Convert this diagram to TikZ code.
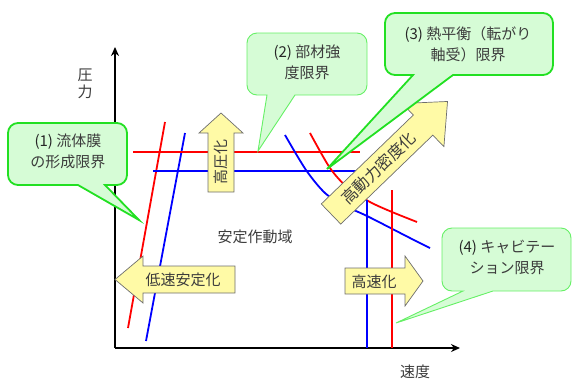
\documentclass[tikz,border=0pt]{standalone}
\usepackage{fontspec}
\setmainfont{Noto Sans CJK JP}
\usetikzlibrary{arrows.meta}
\definecolor{cfill}{HTML}{D6FCD6}
\definecolor{cline}{HTML}{22E022}
\definecolor{clinel}{HTML}{66F066}
\definecolor{afill}{HTML}{FFFAA6}
\definecolor{aline}{HTML}{6E6E6E}
\definecolor{txt}{HTML}{3C3C3C}
\definecolor{lred}{HTML}{FF0000}
\definecolor{lblue}{HTML}{0000FF}
\tikzset{
  redl/.style={draw=lred,line width=1.8pt},
  bluel/.style={draw=lblue,line width=1.8pt},
  axisl/.style={draw=black,line width=1.6pt,-{Stealth[length=9pt,width=8pt]}},
  blockarrow/.style={fill=afill,draw=aline,line width=0.7pt,line join=miter},
  callthick/.style={fill=cfill,draw=cline,line width=1.8pt},
  callthin/.style={fill=cfill,draw=clinel,line width=0.9pt},
  lbl/.style={inner sep=0pt,align=center,font=\fontsize{15}{21}\selectfont,text=txt},
}
\newcommand{\numtx}[1]{\textcolor{black!85}{#1}}
\begin{document}
\begin{tikzpicture}[x=1pt,y=-1pt]
\useasboundingbox (0,0) rectangle (573,381);

% axes
\coordinate (org) at (115,348);
\coordinate (ytip) at (115,47);
\coordinate (xtip) at (460,348);
\draw[axisl] (org) -- (ytip);
\draw[axisl] (org) -- (xtip);
\node[lbl] (ylab1) at (85,75) {圧};
\node[lbl] (ylab2) at (85,92) {力};
\node[lbl] (xlab) at (415,372) {速度};

% limit lines
\draw[redl] (165,122) -- (128,328);
\draw[bluel] (185,133) -- (146,341);
\draw[redl] (133,152) -- (360,152);
\draw[bluel] (153,171) -- (362,171);
\draw[bluel] plot[smooth] coordinates {(285,135) (306,170) (325,193) (345,206) (367,216) (410,238) (430,248)};
\draw[redl] plot[smooth] coordinates {(310,133) (330,168) (348,188) (370,202) (392,212) (417,222)};
\draw[bluel] (367,200) -- (367,348);
\draw[redl] (392,190) -- (392,348);

\node[lbl] (zone) at (255,237) {安定作動域};

% block arrows
\draw[blockarrow] (208,192) -- (234,192) -- (234,133) -- (243,133) -- (221,113) -- (199,133) -- (208,133) -- cycle;
\node[lbl,rotate=90] (upt) at (221,162) {高圧化};

\draw[blockarrow] (235,266) -- (143,266) -- (143,256) -- (115,279.5) -- (143,303) -- (143,293) -- (235,293) -- cycle;
\node[lbl] (leftt) at (183,280) {低速安定化};

\draw[blockarrow] (345,268) -- (405,268) -- (405,256) -- (423,281) -- (405,306) -- (405,294) -- (345,294) -- cycle;
\node[lbl] (rightt) at (374,282) {高速化};

\begin{scope}[shift={(331,214)},rotate=44]
\draw[blockarrow] (0,-14) -- (128,-14) -- (128,-30) -- (162,0) -- (128,30) -- (128,14) -- (0,14) -- cycle;
\node[lbl,transform shape,font=\fontsize{16}{20}\selectfont] (diagt) at (66,0) {高動力密度化};
\end{scope}

% callouts
\draw[callthick] (105,185) -- (139,220) -- (78,185) [rounded corners=10] -- (8,185) -- (8,123) -- (127,123) -- (127,185) [sharp corners] -- cycle;
\node[lbl] (c1) at (68,151) {\numtx{(1)} 流体膜\\の形成限界};

\draw[callthin] (295,95) -- (258,151) -- (267,95) [rounded corners=10] -- (247,95) -- (247,33) -- (367,33) -- (367,95) [sharp corners] -- cycle;
\node[lbl] (c2) at (307,62) {\numtx{(2)} 部材強\\度限界};

\draw[callthick] (453,75) -- (327,169) -- (413,75) [rounded corners=10] -- (385,75) -- (385,13) -- (553,13) -- (553,75) [sharp corners] -- cycle;
\node[lbl] (c3) at (468,44) {\numtx{(3)} 熱平衡（転がり\\軸受）限界};

\draw[callthin] (493,291) -- (396,323) -- (463,291) [rounded corners=10] -- (442,291) -- (442,228) -- (571,228) -- (571,291) [sharp corners] -- cycle;
\node[lbl] (c4) at (507,257) {\numtx{(4)} キャビテー\\ション限界};
\end{tikzpicture}
\end{document}
